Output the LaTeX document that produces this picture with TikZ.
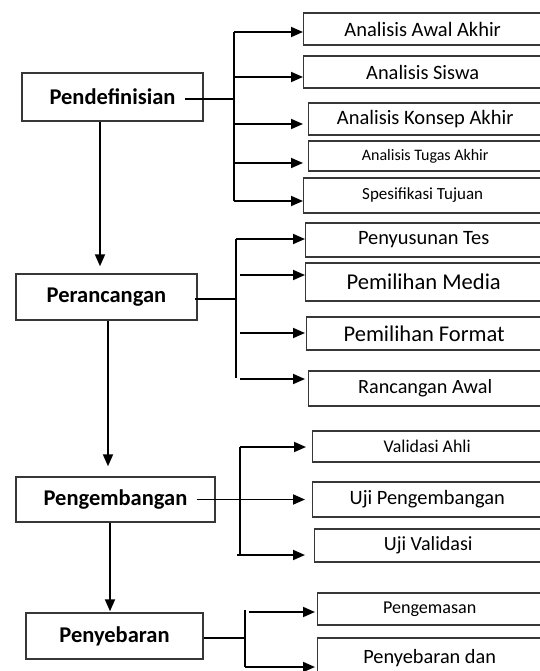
\documentclass[tikz,border=0pt]{standalone}
\usepackage{fontspec}
\setmainfont{Carlito}
\usetikzlibrary{arrows.meta,positioning}
\definecolor{edge}{RGB}{55,55,55}
\newcommand{\fsz}[1]{\fontsize{#1}{#1}\selectfont}

\tikzset{
  stage/.style={draw=edge,line width=1.4pt,inner sep=0pt,font=\bfseries\fsz{22.5}},
  sub/.style={draw=edge,line width=1.4pt,inner sep=0pt,anchor=west},
  link/.style={line width=1.8pt},
  arr/.style={line width=1.8pt,-{Triangle[length=12pt,width=10pt]}}
}

\begin{document}
\begin{tikzpicture}[x=1pt,y=-1pt]
  \useasboundingbox (0,0) rectangle (540,671);
  \clip (0,0) rectangle (540,671);
  % main stages
  \node[stage,minimum width=181pt,minimum height=48pt] (pend) at (112.5,97) {Pendefinisian};
  \node[stage,minimum width=181pt,minimum height=46pt] (peran) at (106.5,297) {Perancangan};
  \node[stage,minimum width=199pt,minimum height=45pt] (pengem) at (115.5,499.5) {Pengembangan};
  \node[stage,minimum width=177pt,minimum height=46pt] (penyeb) at (114.5,636) {Penyebaran};
  % sub steps (boxes run past the right edge)
  \node[sub,minimum width=238pt,minimum height=32pt,font=\fsz{20.5}] (a1) at (303,29) {Analisis Awal Akhir};
  \node[sub,minimum width=238pt,minimum height=32pt,font=\fsz{20.4}] (a2) at (303,72) {Analisis Siswa};
  \node[sub,minimum width=233pt,minimum height=32pt,font=\fsz{20.5}] (a3) at (308,119) {Analisis Konsep Akhir};
  \node[sub,minimum width=233pt,minimum height=30pt,font=\fsz{16}] (a4) at (308,156) {Analisis Tugas Akhir};
  \node[sub,minimum width=238pt,minimum height=35pt,font=\fsz{17}] (a5) at (303,195.5) {Spesifikasi Tujuan};
  \node[sub,minimum width=236pt,minimum height=34pt,font=\fsz{20.4}] (b1) at (305,240) {Penyusunan Tes};
  \node[sub,minimum width=236pt,minimum height=38pt,font=\fsz{22.6}] (b2) at (305,282) {Pemilihan Media};
  \node[sub,minimum width=235pt,minimum height=33pt,font=\fsz{22.5}] (b3) at (306,333.5) {Pemilihan Format};
  \node[sub,minimum width=233pt,minimum height=35pt,font=\fsz{20.2}] (b4) at (308,388.5) {Rancangan Awal};
  \node[sub,minimum width=229pt,minimum height=31pt,font=\fsz{17.9}] (c1) at (312,446.5) {Validasi Ahli};
  \node[sub,minimum width=229pt,minimum height=35pt,font=\fsz{20.4}] (c2) at (312,499.5) {Uji Pengembangan};
  \node[sub,minimum width=227pt,minimum height=33pt,font=\fsz{20.1}] (c3) at (314,545.5) {Uji Validasi};
  \node[sub,minimum width=224pt,minimum height=32pt,font=\fsz{18.1}] (d1) at (317,609) {Pengemasan};
  \node[sub,minimum width=224pt,minimum height=40pt,font=\fsz{20.3}] (d2) at (317,658) {Penyebaran dan};

  % stage to stage
  \draw[arr] ([xshift=-12.5pt]pend.south) -- ([xshift=-6.5pt,yshift=7pt]peran.north);
  \draw[arr] ([xshift=1.5pt]peran.south) -- ([xshift=-7.5pt,yshift=10pt]pengem.north);
  \draw[arr] ([xshift=-5.5pt]pengem.south) -- ([xshift=-4.5pt,yshift=1pt]penyeb.north);

  % pendefinisian branches
  \coordinate (pj) at (234,99);
  \coordinate (pa) at (234,32);
  \coordinate (pb) at (234,201);
  \draw[link] ([xshift=-19pt,yshift=-2pt]pend.east) -- (pj);
  \draw[link] (pa) -- (pb);
  \foreach \n/\y/\s in {a1/32/0,a2/77/0,a3/124/5,a4/163/5,a5/201/0}
    \draw[arr,shorten >=\s pt] (234,\y) -- (\n.west |- 0,\y);

  % perancangan branches
  \coordinate (rj) at (236,299);
  \coordinate (ra) at (236,239);
  \coordinate (rb) at (236,378);
  \draw[link] ([xshift=-3pt,yshift=-2pt]peran.east) -- (rj);
  \draw[link] (ra) -- (rb);
  \draw[arr] (ra) -- (b1.west |- ra);
  \foreach \n/\y/\s in {b2/275/0,b3/333/1,b4/379/3}
    \draw[arr,shorten >=\s pt] (240,\y) -- (\n.west |- 0,\y);

  % pengembangan branches
  \coordinate (ga) at (240,447);
  \coordinate (gb) at (240,555);
  \draw[link] (ga) -- (gb);
  \draw[arr,shorten >=7pt] ([xshift=-19pt]pengem.east) -- (c2.west);
  \draw[arr,shorten >=6pt] (ga) -- (c1.west |- ga);
  \draw[arr,shorten >=9pt] (237,555) -- (c3.west |- gb);

  % penyebaran branches
  \coordinate (sj) at (245,638);
  \coordinate (sa) at (245,610);
  \coordinate (sb) at (245,667);
  \draw[link] ([yshift=-2pt]penyeb.east) -- (sj);
  \draw[link] (sa) -- (sb);
  \draw[arr,shorten >=2pt] (249,612) -- (d1.west |- 0,612);
  \draw[arr,shorten >=2pt] (sb) -- (d2.west |- sb);
\end{tikzpicture}
\end{document}
